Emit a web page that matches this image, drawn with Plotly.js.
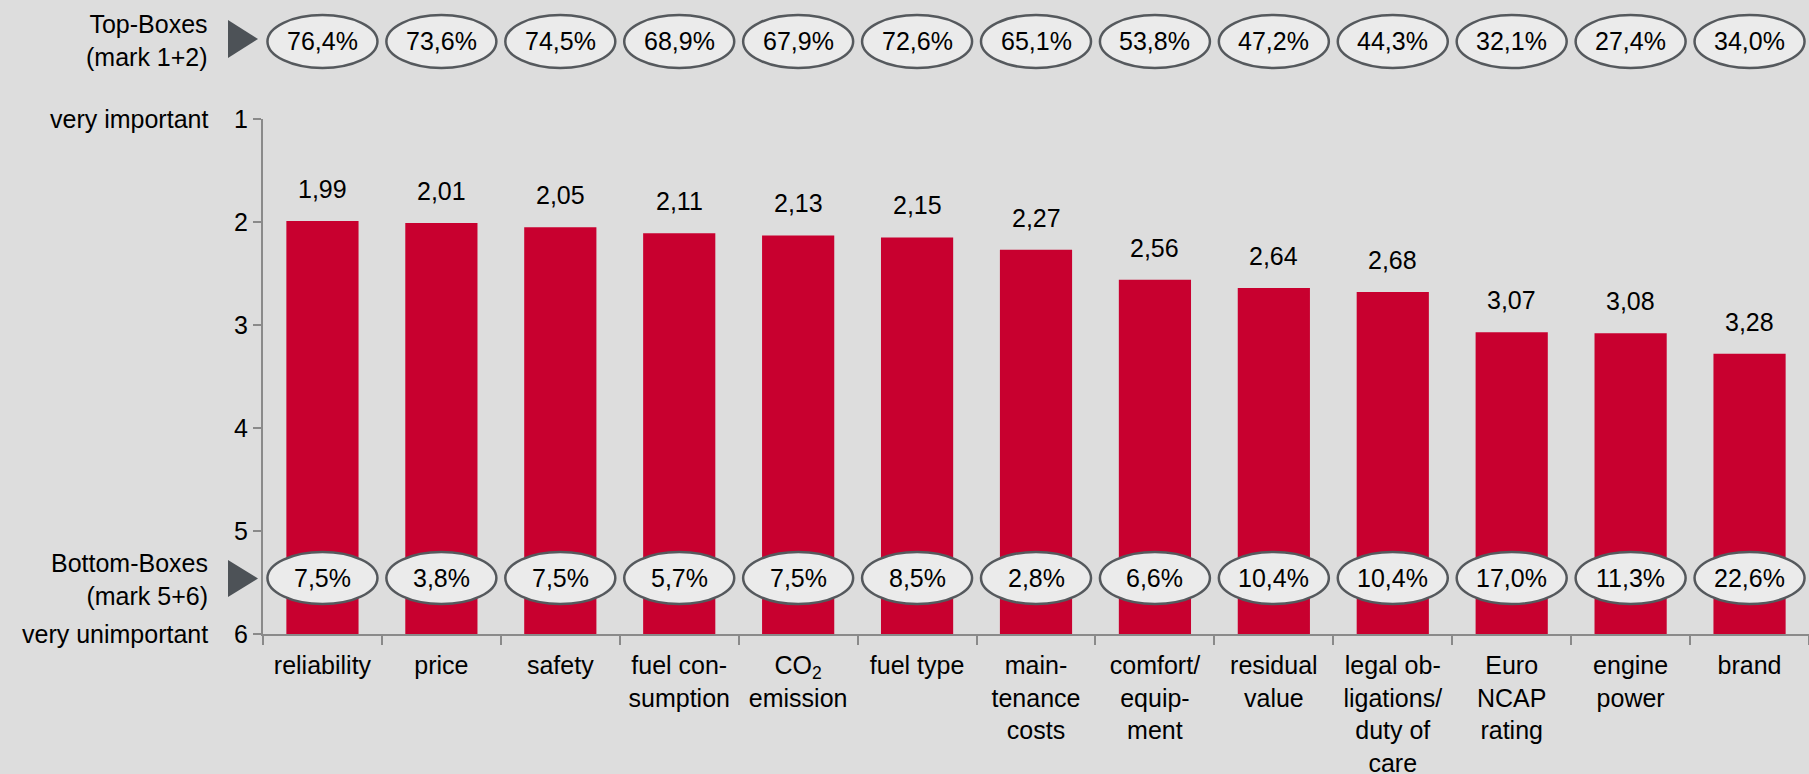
<!DOCTYPE html>
<html>
<head>
<meta charset="utf-8">
<script src="https://cdn.plot.ly/plotly-3.0.1.min.js"></script>
<style>
  html, body { margin: 0; padding: 0; background: #dddddd; overflow: hidden; }
  #chart { width: 1809px; height: 774px; }
</style>
</head>
<body>
<div id="chart"></div>
<script>
// ---- data ----
const categories = [
  "reliability", "price", "safety", "fuel con-<br>sumption", "CO<sub>2</sub><br>emission",
  "fuel type", "main-<br>tenance<br>costs", "comfort/<br>equip-<br>ment", "residual<br>value",
  "legal ob-<br>ligations/<br>duty of<br>care", "Euro<br>NCAP<br>rating", "engine<br>power", "brand"
];
const meanScores = [1.99, 2.01, 2.05, 2.11, 2.13, 2.15, 2.27, 2.56, 2.64, 2.68, 3.07, 3.08, 3.28];
const topBoxes = [76.4, 73.6, 74.5, 68.9, 67.9, 72.6, 65.1, 53.8, 47.2, 44.3, 32.1, 27.4, 34.0];
const bottomBoxes = [7.5, 3.8, 7.5, 5.7, 7.5, 8.5, 2.8, 6.6, 10.4, 10.4, 17.0, 11.3, 22.6];
const scaleMin = 1, scaleMax = 6;
const yTickVals = [1, 2, 3, 4, 5, 6];

// ---- styling ----
const FONT = "Liberation Sans, Arial, Helvetica, sans-serif";
const FS = 25;
const BAR = "#c8002f";
const AXIS = "#8a8a8a";
const BG = "#dddddd";
const ELL_FILL = "#ebebeb";
const ELL_LINE = "#55595d";
const TRI = "#4d5257";

const fmt1 = v => v.toFixed(1).replace(".", ",") + "%";
const fmt2 = v => v.toFixed(2).replace(".", ",");

const barTrace = {
  type: "bar",
  x: categories,
  y: meanScores.map(v => v - scaleMax),
  base: scaleMax,
  marker: { color: BAR, line: { width: 0 } },
  width: 0.607,
  hoverinfo: "skip",
  showlegend: false
};

const annotations = [];
const shapes = [];

categories.forEach((c, i) => {
  // value labels above bars
  annotations.push({
    xref: "x", yref: "y", x: i, y: meanScores[i],
    text: fmt2(meanScores[i]), showarrow: false,
    yanchor: "middle", yshift: 32,
    font: { family: FONT, size: FS, color: "#000" }
  });
  // top box ellipse
  shapes.push({
    type: "circle", layer: "above",
    xref: "x", xsizemode: "pixel", xanchor: i, x0: -55, x1: 55,
    yref: "paper", ysizemode: "pixel", yanchor: 1, y0: 51, y1: 104,
    fillcolor: ELL_FILL, line: { color: ELL_LINE, width: 2.5 }
  });
  annotations.push({
    xref: "x", yref: "paper", x: i, y: 1, yanchor: "middle", yshift: 78,
    text: fmt1(topBoxes[i]), showarrow: false,
    font: { family: FONT, size: FS, color: "#000" }
  });
  // bottom box ellipse
  shapes.push({
    type: "circle", layer: "above",
    xref: "x", xsizemode: "pixel", xanchor: i, x0: -55, x1: 55,
    yref: "paper", ysizemode: "pixel", yanchor: 0, y0: 30, y1: 82,
    fillcolor: ELL_FILL, line: { color: ELL_LINE, width: 2.5 }
  });
  annotations.push({
    xref: "x", yref: "paper", x: i, y: 0, yanchor: "middle", yshift: 56,
    text: fmt1(bottomBoxes[i]), showarrow: false,
    font: { family: FONT, size: FS, color: "#000" }
  });
});

// triangles
shapes.push({
  type: "path", layer: "above",
  xref: "paper", xsizemode: "pixel", xanchor: 0,
  yref: "paper", ysizemode: "pixel", yanchor: 1,
  path: "M -35 99 L -5 80 L -35 61 Z",
  fillcolor: TRI, line: { width: 0 }
});
shapes.push({
  type: "path", layer: "above",
  xref: "paper", xsizemode: "pixel", xanchor: 0,
  yref: "paper", ysizemode: "pixel", yanchor: 0,
  path: "M -35 74 L -5 55.5 L -35 37 Z",
  fillcolor: TRI, line: { width: 0 }
});

// left side labels
const sideFont = { family: FONT, size: FS, color: "#000" };
annotations.push({
  xref: "paper", yref: "paper", x: 0, y: 1, xanchor: "right", yanchor: "middle",
  xshift: -53, yshift: 79, align: "right", showarrow: false,
  text: "Top-Boxes<br>(mark 1+2)", font: sideFont
});
annotations.push({
  xref: "paper", yref: "paper", x: 0, y: 0, xanchor: "right", yanchor: "middle",
  xshift: -53, yshift: 55, align: "right", showarrow: false,
  text: "Bottom-Boxes<br>(mark 5+6)", font: sideFont
});
annotations.push({
  xref: "paper", yref: "y", x: 0, y: scaleMin, xanchor: "right", yanchor: "middle",
  xshift: -53, align: "right", showarrow: false,
  text: "very important", font: sideFont
});
annotations.push({
  xref: "paper", yref: "y", x: 0, y: scaleMax, xanchor: "right", yanchor: "middle",
  xshift: -53, align: "right", showarrow: false,
  text: "very unimportant", font: sideFont
});

const layout = {
  width: 1809, height: 774,
  margin: { l: 263, r: 0, t: 119, b: 140, pad: 0 },
  paper_bgcolor: BG, plot_bgcolor: BG,
  font: { family: FONT, size: FS, color: "#000" },
  showlegend: false,
  bargap: 0.39,
  xaxis: {
    type: "category",
    range: [-0.5, 12.5],
    tickson: "boundaries",
    ticks: "outside", ticklen: 9, tickwidth: 2, tickcolor: AXIS,
    ticklabelstandoff: 8,
    showline: true, linecolor: AXIS, linewidth: 2,
    showgrid: false, zeroline: false,
    tickangle: 0,
    tickfont: { family: FONT, size: FS, color: "#000" },
    fixedrange: true
  },
  yaxis: {
    range: [scaleMax, scaleMin],
    tickvals: yTickVals,
    ticktext: yTickVals.map(String),
    ticks: "outside", ticklen: 8, tickwidth: 2, tickcolor: AXIS,
    showline: true, linecolor: AXIS, linewidth: 2,
    showgrid: false, zeroline: false,
    tickfont: { family: FONT, size: FS, color: "#000" },
    fixedrange: true
  },
  shapes: shapes,
  annotations: annotations
};

Plotly.newPlot("chart", [barTrace], layout, { displayModeBar: false, staticPlot: true });
</script>
</body>
</html>
